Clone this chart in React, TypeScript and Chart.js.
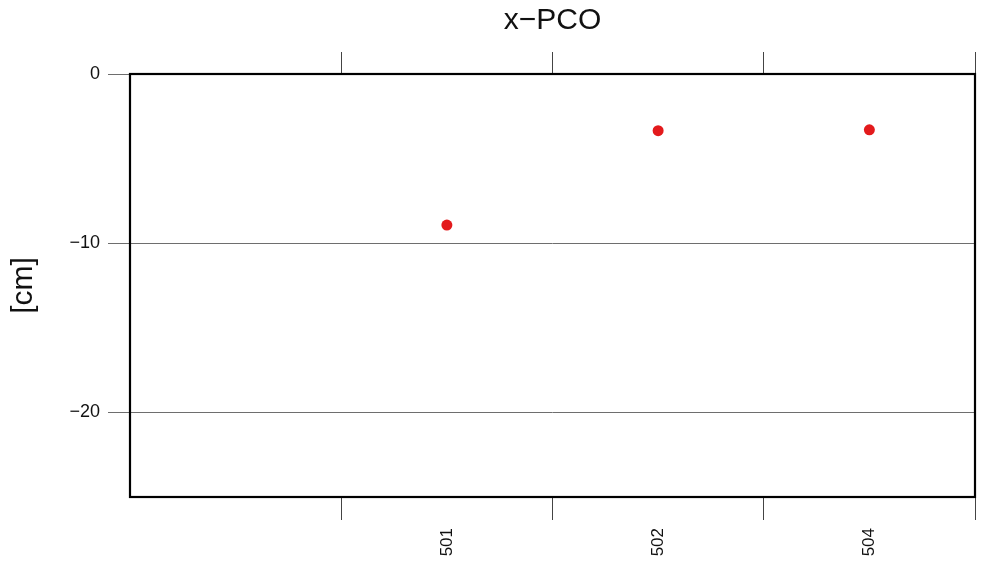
import React, { useEffect, useRef } from "react";
import { Chart, registerables } from "chart.js";

Chart.register(...registerables);

const categories = ["", "501", "502", "504"];
const xPcoValues = [null, -8.93, -3.35, -3.3];
const yTickValues = [0, -10, -20];
const yMin = -25;
const yMax = 0;

const FONT = "'Liberation Sans', Arial, Helvetica, sans-serif";

const framePlugin = {
  id: "frame",
  afterDraw(chart: any) {
    const { ctx, chartArea } = chart;
    ctx.save();
    ctx.strokeStyle = "#000";
    ctx.lineWidth = 2.2;
    ctx.strokeRect(chartArea.left, chartArea.top, chartArea.right - chartArea.left, chartArea.bottom - chartArea.top);
    ctx.restore();
  },
};

const TITLE_SIZE = 30;
const TITLE_BLOCK = TITLE_SIZE * 1.2 + 3;

export default function App() {
  const ref = useRef<HTMLCanvasElement | null>(null);
  useEffect(() => {
    if (!ref.current) return;
    const tickColor = (c: any) => (c.index === 0 ? "rgba(0,0,0,0)" : "#444");
    const chart = new Chart(ref.current, {
      type: "line",
      data: {
        labels: categories,
        datasets: [
          {
            label: "x-PCO",
            data: xPcoValues as any,
            showLine: false,
            pointRadius: 5.5,
            pointHoverRadius: 5.5,
            pointBackgroundColor: "#e31a1c",
            pointBorderColor: "#e31a1c",
            pointBorderWidth: 0,
            xAxisID: "x",
            yAxisID: "y",
          },
        ],
      },
      options: {
        responsive: false,
        animation: false,
        layout: { padding: { left: 0, right: 11, top: 0, bottom: 0 } },
        plugins: {
          legend: { display: false },
          tooltip: { enabled: false },
          title: {
            display: true,
            fullSize: false,
            text: "x\u2212PCO",
            color: "#111",
            font: { family: FONT, size: TITLE_SIZE, weight: "normal" as any, lineHeight: 1.2 },
            padding: { top: 3, bottom: 0 },
          },
        },
        scales: {
          x: {
            type: "category",
            position: "bottom",
            offset: true,
            border: { display: false },
            grid: {
              offset: true,
              drawOnChartArea: false,
              drawTicks: true,
              tickLength: 23,
              color: tickColor as any,
              lineWidth: 1,
            },
            ticks: {
              autoSkip: false,
              minRotation: 90,
              maxRotation: 90,
              padding: 8,
              color: "#111",
              font: { family: FONT, size: 17 },
            },
            afterFit(scale: any) {
              scale.height = 67;
            },
          },
          x2: {
            type: "category",
            position: "top",
            labels: categories,
            offset: true,
            border: { display: false },
            grid: {
              offset: true,
              drawOnChartArea: false,
              drawTicks: true,
              tickLength: 22,
              color: tickColor as any,
              lineWidth: 1,
            },
            ticks: { display: false },
            afterFit(scale: any) {
              scale.height = 74 - TITLE_BLOCK;
            },
          },
          y: {
            type: "linear",
            position: "left",
            min: yMin,
            max: yMax,
            border: { display: false },
            grid: {
              color: "#6e6e6e",
              lineWidth: 1,
              drawTicks: true,
              tickLength: 22,
            },
            afterBuildTicks(scale: any) {
              scale.ticks = yTickValues.map((v) => ({ value: v }));
            },
            ticks: {
              padding: 8,
              color: "#111",
              font: { family: FONT, size: 18 },
              callback: (v: any) => (Number(v) < 0 ? "\u2212" + Math.abs(Number(v)) : String(v)),
            },
            title: {
              display: true,
              text: "[cm]",
              color: "#111",
              font: { family: FONT, size: 30, lineHeight: 1.2 },
              padding: { top: 6, bottom: 0 },
            },
            afterFit(scale: any) {
              scale.width = 130;
            },
          },
        },
      },
      plugins: [framePlugin],
    });
    return () => chart.destroy();
  }, []);
  return (
    <div style={{ position: "fixed", left: 0, top: 0, width: 986, height: 564, background: "#fff" }}>
      <canvas ref={ref} width={986} height={564} style={{ display: "block" }} />
    </div>
  );
}
